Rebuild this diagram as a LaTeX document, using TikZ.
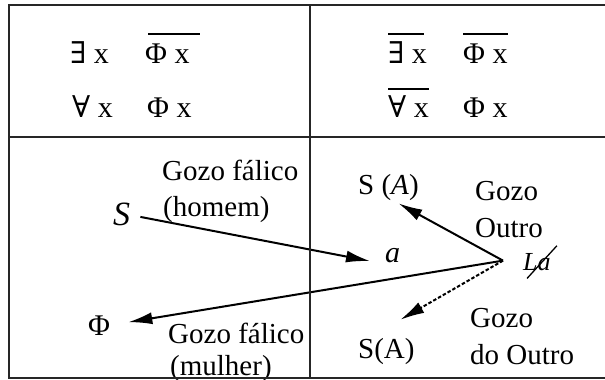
\documentclass[tikz,border=0pt]{standalone}
\usepackage{fontspec}
\setmainfont{Liberation Serif}
\newfontfamily\symf{DejaVu Serif}
\usetikzlibrary{arrows.meta}
\begin{document}
\begin{tikzpicture}[x=1pt,y=-1pt,
  txt/.style={inner sep=0pt,anchor=base west,font=\fontsize{29}{35}\selectfont},
  frm/.style={inner sep=0pt,anchor=base west,font=\fontsize{30}{36}\selectfont},
  itl/.style={inner sep=0pt,anchor=base west,font=\fontsize{30}{36}\selectfont\itshape},
  bar/.style={line width=2.2pt},
  arr/.style={line width=2pt,-{Latex[length=24pt,width=12pt]}},
  dsh/.style={arr,dash pattern=on 3.5pt off 2pt},
  frame/.style={line width=2.4pt,black!85}]
\useasboundingbox (0,0) rectangle (605,380);
% formulas top-left
\node[frm] (e1) at (70,63) {{\symf ∃} x};
\node[frm] (p1) at (145,63) {Φ x};
\draw[bar] ([shift={(3,-9)}]p1.north west) -- ([shift={(10,-9)}]p1.north east);
\node[frm] (f1) at (72,117) {{\symf ∀} x};
\node[frm] (p2) at (147,117) {Φ x};
% formulas top-right
\node[frm] (e2) at (388,63) {{\symf ∃} x};
\draw[bar] ([shift={(0,-7)}]e2.north west) -- ([shift={(-3,-7)}]e2.north east);
\node[frm] (p3) at (463,63) {Φ x};
\draw[bar] ([shift={(0,-9)}]p3.north west) -- ([shift={(0,-9)}]p3.north east);
\node[frm] (f2) at (388,117) {{\symf ∀} x};
\draw[bar] ([shift={(0,-6)}]f2.north west) -- ([shift={(0,-6)}]f2.north east);
\node[frm] (p4) at (463,117) {Φ x};
% bottom-left
\node[inner sep=0pt,anchor=base west,font=\fontsize{34}{40}\selectfont\itshape] (S) at (113,225) {S};
\node[itl] (a) at (385,262) {a};
\node[frm] (Phi) at (88,335) {Φ};
\node[txt] (g1) at (162,180) {Gozo fálico};
\node[txt] (h1) at (163,216) {(homem)};
\node[txt] (g2) at (168,343) {Gozo fálico};
\node[txt] (m1) at (170,375) {(mulher)};
% bottom-right
\node[inner sep=0pt,anchor=base west,font=\fontsize{26}{30}\selectfont\itshape] (La) at (523,270) {La};
\draw[line width=1.3pt] ([shift={(4,8)}]La.south west) -- ([shift={(6,-7)}]La.north east);
\coordinate (v) at ([xshift=-20pt,yshift=1pt]La.west);
\node[txt] (SA1) at (358,194) {S (\textit{A})};
\node[txt] (SA2) at (358,358) {S(A)};
\node[txt] (g3) at (475,200) {Gozo};
\node[txt] (o1) at (475,237) {Outro};
\node[txt] (g4) at (470,327) {Gozo};
\node[txt] (o2) at (470,364) {do Outro};
% arrows
\draw[arr] ([xshift=10pt,yshift=-3pt]S.east) -- ([xshift=-15pt,yshift=-6pt]a.west);
\draw[arr] (v) -- ([xshift=18pt,yshift=3pt]Phi.east);
\draw[arr] (v) -- ([xshift=10pt,yshift=-3pt]SA1.south);
\draw[dsh] (v) -- ([xshift=14pt,yshift=18pt]SA2.north);
% frame
\draw[frame] (9,5) rectangle (608,378);
\draw[frame] (9,137) -- (608,137);
\draw[frame] (310,5) -- (310,378);
\end{tikzpicture}
\end{document}
